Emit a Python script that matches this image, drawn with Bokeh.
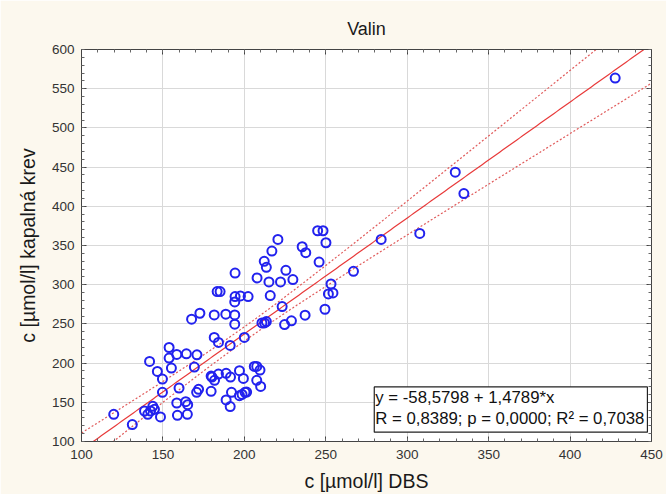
import numpy as np
from bokeh.plotting import figure
from bokeh.models import (LinearAxis, Label, Range1d, SingleIntervalTicker,
                          ColumnDataSource, CustomJSTickFormatter)
from bokeh.embed import file_html
from bokeh.resources import INLINE

# Valine: DBS concentration vs. capillary blood concentration (µmol/l)
dbs = [119.8, 131.2, 138.7, 140.7, 142.4, 143.8, 144.8, 141.8, 146.6, 149.7,
       149.7, 148.5, 153.8, 153.8, 155.2, 158.5, 159.9, 158.5, 158.9, 164.4,
       169.3, 170.9, 164.0, 165.2, 165.0, 170.7, 171.9, 167.6, 172.7, 179.6,
       180.1, 181.7, 179.6, 184.1, 181.5, 184.1, 181.5, 183.3, 185.1, 188.6,
       188.8, 191.3, 191.5, 192.1, 188.8, 191.3, 194.1, 194.1, 194.1, 194.3,
       197.6, 202.3, 194.3, 197.0, 199.4, 197.0, 198.6, 200.4, 201.4, 200.0,
       206.1, 207.6, 209.6, 207.6, 210.0, 207.8, 212.2, 213.5, 215.1, 215.9,
       210.8, 212.4, 213.5, 216.9, 220.6, 222.2, 225.5, 229.8, 223.2, 224.7,
       228.9, 237.3, 235.5, 237.7, 245.0, 248.3, 250.1, 245.9, 253.2, 251.6,
       254.4, 249.5, 267.0, 284.0, 307.7, 329.5, 334.8, 427.7]
capillary = [134.7, 121.6, 138.9, 134.7, 138.9, 144.9, 141.1, 202.1, 189.4, 179.7,
             162.7, 131.3, 219.9, 206.4, 193.6, 211.0, 168.2, 149.1, 133.4, 211.9,
             194.9, 210.6, 150.8, 147.0, 134.7, 162.7, 166.5, 256.0, 263.6, 164.0,
             182.2, 178.0, 183.5, 186.0, 232.7, 226.3, 261.5, 291.2, 291.2, 262.4,
             186.9, 222.5, 182.2, 162.7, 153.0, 144.5, 261.5, 249.6, 278.0, 284.8,
             285.7, 284.8, 314.9, 190.3, 180.5, 158.5, 160.1, 162.7, 163.1, 232.7,
             195.8, 195.8, 191.1, 178.0, 170.3, 308.6, 329.8, 322.2, 303.5, 286.1,
             251.3, 251.3, 253.0, 342.9, 357.8, 303.5, 318.3, 306.5, 272.1, 249.2,
             253.9, 261.1, 348.4, 340.8, 368.8, 368.8, 353.5, 328.9, 300.9, 288.2,
             289.5, 268.7, 317.1, 357.8, 365.4, 443.5, 416.3, 563.5]

# regression as reported
intercept = -58.5798
slope = 1.4789
r_value = "0,8389"
p_value = "0,0000"
r2_value = "0,7038"

x = np.array(dbs)
y = np.array(capillary)
n = len(x)

# 95 % confidence band of the fitted line
xs = np.linspace(100, 450, 200)
fit = intercept + slope * xs
resid = y - (intercept + slope * x)
s = np.sqrt(np.sum(resid ** 2) / (n - 2))
sxx = np.sum((x - x.mean()) ** 2)
t_crit = 1.985
half = t_crit * s * np.sqrt(1.0 / n + (xs - x.mean()) ** 2 / sxx)

FONT = "Liberation Sans"

p = figure(width=666, height=494, output_backend="svg", toolbar_location=None,
           x_range=Range1d(100, 450), y_range=Range1d(100, 600),
           title="Valin", min_border_left=81, min_border_right=15,
           min_border_top=49, min_border_bottom=53)

p.background_fill_color = "white"
p.border_fill_color = "#fcf8ee"
p.outline_line_color = "#444444"
p.outline_line_width = 1

p.title.align = "center"
p.title.text_font = FONT
p.title.text_font_size = "18px"
p.title.text_font_style = "normal"
p.title.text_color = "#1a1a1a"
p.title.standoff = 21

for ax in (p.xaxis[0], p.yaxis[0]):
    ax.ticker = SingleIntervalTicker(interval=50, num_minor_ticks=5)
    ax.major_label_text_font = FONT
    ax.major_label_text_font_size = "13.5px"
    ax.major_label_text_color = "#333333"
    ax.axis_label_text_font = FONT
    ax.axis_label_text_font_size = "19.5px"
    ax.axis_label_text_font_style = "normal"
    ax.axis_label_text_color = "#1a1a1a"
    ax.axis_line_color = "#444444"
    ax.major_tick_line_color = "#444444"
    ax.minor_tick_line_color = "#666666"
    ax.major_tick_in = 5
    ax.major_tick_out = 0
    ax.minor_tick_in = 3
    ax.minor_tick_out = 0

p.xaxis[0].axis_label = "c [µmol/l] DBS"
p.yaxis[0].axis_label = "c [µmol/l] kapalná krev"
p.xaxis[0].major_label_standoff = 8
p.yaxis[0].major_label_standoff = 7
p.xaxis[0].axis_label_standoff = 8
p.yaxis[0].axis_label_standoff = 10

# tick marks along the top and right edges of the frame
for side in ("above", "right"):
    ax = LinearAxis(ticker=SingleIntervalTicker(interval=50, num_minor_ticks=5),
                    formatter=CustomJSTickFormatter(code="return ''"))
    ax.axis_line_color = "#444444"
    ax.major_tick_line_color = "#444444"
    ax.minor_tick_line_color = "#666666"
    ax.major_tick_in = 5
    ax.major_tick_out = 0
    ax.minor_tick_in = 3
    ax.minor_tick_out = 0
    ax.major_label_standoff = 0
    p.add_layout(ax, side)

p.grid.grid_line_color = "#d9d9d9"
p.grid.grid_line_width = 1
p.xgrid.ticker = SingleIntervalTicker(interval=50)
p.ygrid.ticker = SingleIntervalTicker(interval=50)

p.line(xs, fit, line_color="#e83a3a", line_width=1.2)
p.line(xs, fit + half, line_color="#e05a5a", line_width=1.2, line_dash="2 2")
p.line(xs, fit - half, line_color="#e05a5a", line_width=1.2, line_dash="2 2")

src = ColumnDataSource(dict(x=dbs, y=capillary))
p.scatter("x", "y", source=src, marker="circle", size=9, fill_color=None,
          line_color="#2222ee", line_width=2)

stats = Label(x=447.5, y=111.9, x_units="data", y_units="data",
              anchor="bottom_right", text_align="left",
              text=f"y = {intercept:.4f} + {slope:.4f}*x".replace(".", ",")
                   + f"\nR = {r_value}; p = {p_value}; R² = {r2_value}",
              text_font=FONT, text_font_size="16.8px", text_color="#111111",
              text_line_height=1.12,
              background_fill_color="white", border_line_color="#222222",
              border_line_width=1.2, padding=(1, 3, 1, 4))
p.add_layout(stats)

open("out.html", "w").write(file_html(p, INLINE))
